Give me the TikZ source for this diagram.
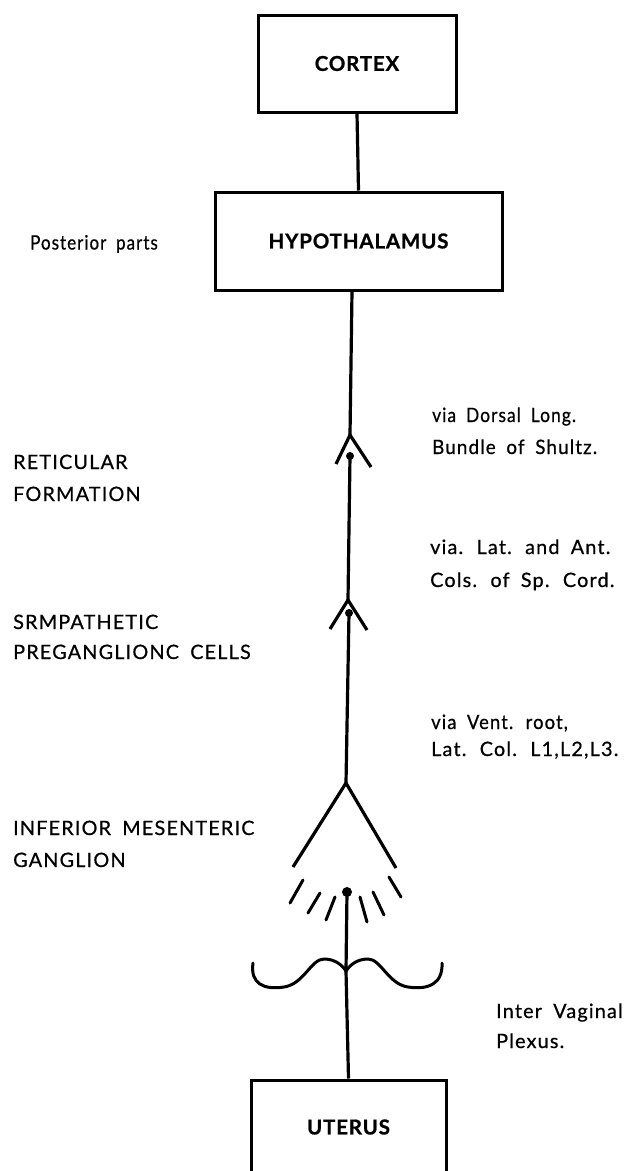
\documentclass[tikz,border=0pt]{standalone}
\usepackage{graphicx}
\usepackage{fontspec}
\setmainfont{Lato}
\newfontfamily\lblfont[LetterSpace=6,WordSpace=1.8,FakeBold=0.6]{Lato}
\newfontfamily\boxfont[LetterSpace=4,FakeBold=0.8]{Lato Bold}
\newcommand{\narrowtext}[2]{\scalebox{#1}[1]{#2}}
\begin{document}
\begin{tikzpicture}[x=1pt,y=-1pt,
  box/.style={draw, line width=3pt, inner sep=0pt, font=\boxfont\fontsize{20.5}{24}\selectfont},
  lbl/.style={anchor=base west, inner sep=0pt, font=\lblfont\fontsize{19.8}{23}\selectfont},
  nerve/.style={line width=3.2pt},
  ray/.style={line width=3pt, line cap=round},
  dotn/.style={circle, fill=black, inner sep=0pt, minimum size=8pt}]
\useasboundingbox (0,0) rectangle (626,1171);
\fill[white] (0,0) rectangle (626,1171);

% boxes
\node[box, minimum width=198pt, minimum height=97pt] (cortex) at (357,63.5) {CORTEX};
\node[box, minimum width=287pt, minimum height=98pt] (hypo) at (358.5,241) {HYPOTHALAMUS};
\node[box, minimum width=195pt, minimum height=94pt] (uterus) at (348.5,1127) {UTERUS};

% synapse points
\coordinate (v1) at (350,435);
\coordinate (a1l) at (336,464);
\coordinate (a1r) at (371,467);
\node[dotn, minimum size=8pt] (d1) at (350,456) {};
\coordinate (v2) at (348,600);
\coordinate (a2l) at (330,629);
\coordinate (a2r) at (367,630);
\node[dotn, minimum size=8pt] (d2) at (349,613) {};
\coordinate (v3) at (346,783);
\coordinate (a3l) at (293,867);
\coordinate (a3r) at (396,868);
\node[dotn, minimum size=10pt] (d3) at (347,892) {};
\coordinate (m) at (346,971);

% connectors
\draw[nerve] (cortex.south) -- (hypo.north);
\draw[nerve] (hypo.south -| 352,0) -- (v1);
\draw[nerve] (a1l) -- (v1) -- (a1r);
\draw[nerve] (d1.center) -- (v2);
\draw[nerve] (a2l) -- (v2) -- (a2r);
\draw[nerve] (d2.center) -- (v3);
\draw[nerve] (a3l) -- (v3) -- (a3r);
\draw[nerve] (d3.center) -- (m) -- (uterus.north);

% radiating dashes
\draw[ray] (303,880) -- (290,903);
\draw[ray] (320,893) -- (308,913);
\draw[ray] (335,897) -- (326,920);
\draw[ray] (360,897) -- (367,922);
\draw[ray] (373,892) -- (384,915);
\draw[ray] (389,877) -- (401,897);

% plexus (mustache)
\draw[line width=3pt, line cap=round]
  (253,963) .. controls (250,984) and (264,990) .. (284,987)
  .. controls (304,984) and (311,959) .. (324,959)
  .. controls (335,959) and (342,965) .. (m)
  .. controls (350,965) and (357,959) .. (368,959)
  .. controls (381,959) and (388,984) .. (408,987)
  .. controls (428,990) and (443,984) .. (442,963);

% left labels
\node[lbl] (post) at (30,249.5) {\narrowtext{0.86}{Posterior parts}};
\node[lbl] (ret1) at (13,469) {RETICULAR};
\node[lbl] (ret2) at (13,501) {FORMATION};
\node[lbl] (sym1) at (13,629) {SRMPATHETIC};
\node[lbl] (sym2) at (13,659) {PREGANGLIONC CELLS};
\node[lbl] (inf1) at (13,835) {INFERIOR MESENTERIC};
\node[lbl] (inf2) at (13,867) {GANGLION};

% right labels
\node[lbl] (dor1) at (432,422) {\narrowtext{0.88}{via Dorsal Long.}};
\node[lbl] (dor2) at (432,454) {\narrowtext{0.95}{Bundle of Shultz.}};
\node[lbl] (lat1) at (430,554) {via. Lat. and Ant.};
\node[lbl] (lat2) at (430,587) {Cols. of Sp. Cord.};
\node[lbl] (ven1) at (431,729) {\narrowtext{0.93}{via Vent. root,}};
\node[lbl] (ven2) at (431,756) {Lat. Col. L1,L2,L3.};
\node[lbl] (iv1) at (496,1018) {Inter Vaginal};
\node[lbl] (iv2) at (496,1048) {Plexus.};
\end{tikzpicture}
\end{document}
